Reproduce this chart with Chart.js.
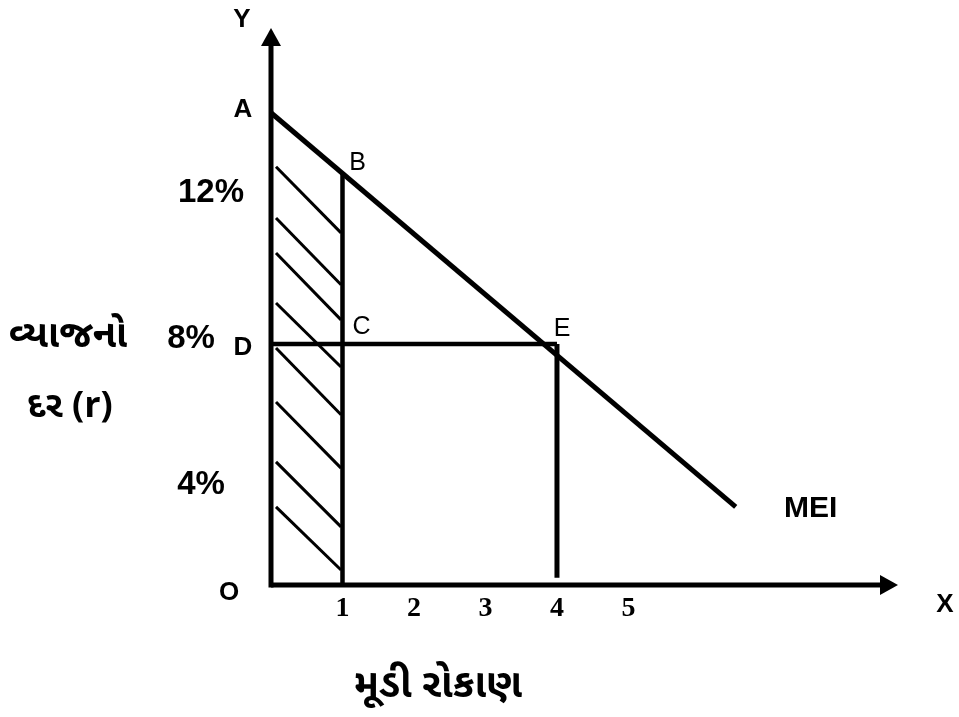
<!DOCTYPE html>
<html>
<head>
<meta charset="utf-8">
<script src="https://cdn.jsdelivr.net/npm/chart.js@4.4.1/dist/chart.umd.min.js"></script>
<style>
  html, body { margin: 0; padding: 0; background: #fff; }
  canvas { display: block; }
</style>
</head>
<body>
<canvas id="meiChart" width="959" height="717"></canvas>
<script>
/* ── données du schéma MEI ── */
var xTicks = [1, 2, 3, 4, 5];
var yTicks = [4, 8, 12];
var yTickLabels = ['4%', '8%', '12%'];

var X_MIN = 0, X_MAX = 8.77;
var Y_MIN = 1.4, Y_MAX = 16.65;

// courbe MEI (de A jusqu'au bout)
var meiX = [0, 6.5];
var meiY = [14.33, 3.54];

// points nommés
var pointNames = ['A', 'B', 'C', 'D', 'E'];
var pointX = [0, 1, 1, 0, 4];
var pointY = [14.33, 12.68, 8, 8, 8];

// segments verticaux / horizontaux
var lineBX = [1, 1],  lineBY = [12.68, 1.4];
var lineDX = [0, 4],  lineDY = [8, 8];
var lineEX = [4, 4],  lineEY = [8, 1.6];

// hachures de la zone O-B
var hatchX = [0.07, 0.98];
var hatchLeftY  = [12.85, 11.45, 10.49, 9.12, 7.89, 6.41, 4.77, 3.54];
var hatchRightY = [11.04, 9.62, 8.66, 7.37, 6.06, 4.60, 2.99, 1.81];

var GUJ = '"Noto Sans Gujarati", "Lohit Gujarati", "Shruti", "Noto Sans", sans-serif';
var SANS = '"Liberation Sans", Arial, sans-serif';
var SERIF = '"Liberation Serif", "Times New Roman", serif';

function seg(xs, ys, width) {
  return {
    data: xs.map(function(x, i) { return { x: x, y: ys[i] }; }),
    showLine: true,
    borderColor: '#000',
    backgroundColor: '#000',
    borderWidth: width,
    borderCapStyle: 'butt',
    pointRadius: 0,
    clip: false
  };
}

var datasets = [];
// axes
datasets.push(seg([X_MIN, X_MAX - 0.2], [Y_MIN, Y_MIN], 5));
datasets.push(seg([X_MIN, X_MIN], [Y_MIN - 0.07, Y_MAX - 0.3], 5));
// hachures
hatchLeftY.forEach(function(y0, i) {
  datasets.push(seg(hatchX, [y0, hatchRightY[i]], 3));
});
datasets.push(seg(lineBX, lineBY, 4.5));
datasets.push(seg(lineDX, lineDY, 4.5));
datasets.push(seg(lineEX, lineEY, 5));
datasets.push(seg(meiX, meiY, 5));

// ── flèches des axes ──
var arrowPlugin = {
  id: 'arrows',
  afterDatasetsDraw: function(chart) {
    var ctx = chart.ctx, a = chart.chartArea;
    var x0 = chart.scales.x.getPixelForValue(X_MIN);
    var y0 = chart.scales.y.getPixelForValue(Y_MIN);
    ctx.save();
    ctx.fillStyle = '#000';
    ctx.beginPath();
    ctx.moveTo(x0, a.top);
    ctx.lineTo(x0 - 10, a.top + 18);
    ctx.lineTo(x0 + 10, a.top + 18);
    ctx.closePath();
    ctx.fill();
    ctx.beginPath();
    ctx.moveTo(a.right, y0);
    ctx.lineTo(a.right - 18, y0 - 10);
    ctx.lineTo(a.right - 18, y0 + 10);
    ctx.closePath();
    ctx.fill();
    ctx.restore();
  }
};

// ── textes ──
var yLabelDx = [-70, -80, -60];
var labelPlugin = {
  id: 'labels',
  afterDraw: function(chart) {
    var ctx = chart.ctx, xs = chart.scales.x, ys = chart.scales.y;
    var x0 = xs.getPixelForValue(X_MIN), y0 = ys.getPixelForValue(Y_MIN);
    function txt(s, x, y, font) {
      ctx.font = font;
      ctx.fillText(s, x, y);
    }
    ctx.save();
    ctx.fillStyle = '#000';
    ctx.textAlign = 'center';
    ctx.textBaseline = 'middle';

    txt('Y', x0 - 29, 20, 'bold 26px ' + SANS);
    txt('X', chart.chartArea.right + 47, y0 + 20, 'bold 26px ' + SANS);
    txt('O', x0 - 42, y0 + 8, 'bold 26px ' + SANS);

    // A et D (sur l'axe Y)
    txt(pointNames[0], x0 - 28, ys.getPixelForValue(pointY[0]) - 3, 'bold 26px ' + SANS);
    txt(pointNames[3], x0 - 28, ys.getPixelForValue(pointY[3]) + 4, 'bold 26px ' + SANS);
    // B, C, E
    txt(pointNames[1], xs.getPixelForValue(pointX[1]) + 15, ys.getPixelForValue(pointY[1]) - 10, '25px ' + SANS);
    txt(pointNames[2], xs.getPixelForValue(pointX[2]) + 19, ys.getPixelForValue(pointY[2]) - 17, '25px ' + SANS);
    txt(pointNames[4], xs.getPixelForValue(pointX[4]) + 5, ys.getPixelForValue(pointY[4]) - 15, '25px ' + SANS);

    txt('MEI', xs.getPixelForValue(meiX[1]) + 75, ys.getPixelForValue(meiY[1]) + 2, 'bold 30px ' + SANS);

    yTicks.forEach(function(v, i) {
      txt(yTickLabels[i], x0 + yLabelDx[i], ys.getPixelForValue(v) - 5, 'bold 33px ' + SANS);
    });
    xTicks.forEach(function(v) {
      txt(String(v), xs.getPixelForValue(v), y0 + 24, 'bold 28px ' + SERIF);
    });

    // titres en gujarati
    var y8 = ys.getPixelForValue(8);
    txt('વ્યાજનો', 68, y8 - 4, 'bold 38px ' + GUJ);
    txt('દર (r)', 70, y8 + 66, 'bold 36px ' + GUJ);
    txt('મૂડી રોકાણ', 438, 690, 'bold 40px ' + GUJ);
    ctx.restore();
  }
};

new Chart(document.getElementById('meiChart'), {
  type: 'scatter',
  data: { datasets: datasets },
  options: {
    responsive: false,
    animation: false,
    layout: { padding: { left: 271, right: 61, top: 28, bottom: 132 } },
    scales: {
      x: { type: 'linear', min: X_MIN, max: X_MAX, display: false },
      y: { type: 'linear', min: Y_MIN, max: Y_MAX, display: false }
    },
    plugins: { legend: { display: false }, tooltip: { enabled: false } }
  },
  plugins: [arrowPlugin, labelPlugin]
});
</script>
</body>
</html>
